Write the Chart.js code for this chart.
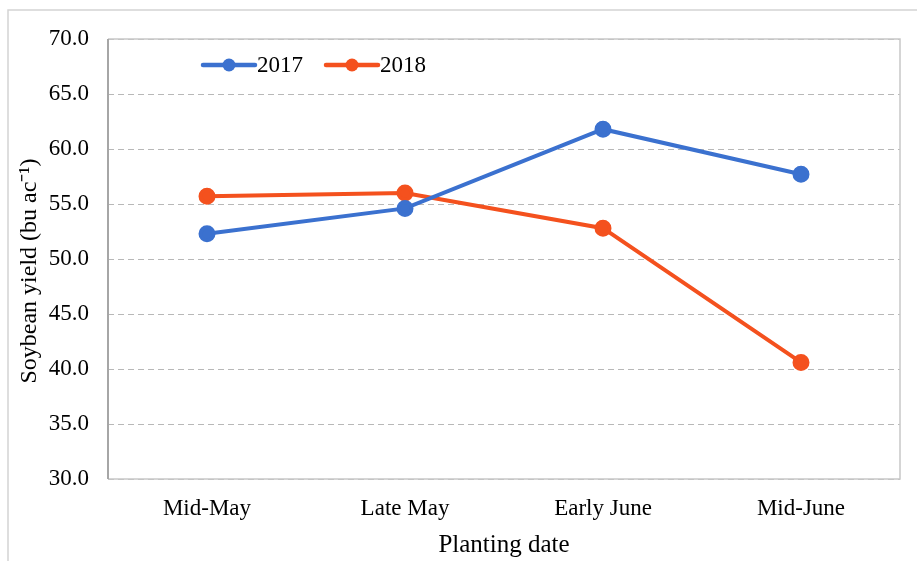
<!DOCTYPE html>
<html>
<head>
<meta charset="utf-8">
<script src="https://cdn.jsdelivr.net/npm/chart.js@4"></script>
<style>
  html, body { margin: 0; padding: 0; background: #ffffff; }
  #wrap { position: relative; width: 917px; height: 561px; }
</style>
</head>
<body>
<div id="wrap"><canvas id="c" width="917" height="561"></canvas></div>
<script>
// Planting date categories and soybean yields (bu/ac) per year
const plantingDates = ['Mid-May', 'Late May', 'Early June', 'Mid-June'];
const yield2017 = [52.3, 54.6, 61.8, 57.7];
const yield2018 = [55.7, 56.0, 52.8, 40.6];
const seriesNames = ['2017', '2018'];
const yTicks = [30, 35, 40, 45, 50, 55, 60, 65, 70];

const BLUE = '#3B71CF';
const ORANGE = '#F4511E';
const SERIF = '"Liberation Serif", "Times New Roman", serif';

// Frame around the whole figure and around the plot area
const framePlugin = {
  id: 'frames',
  beforeDraw(chart) {
    const ctx = chart.ctx;
    ctx.save();
    ctx.fillStyle = '#ffffff';
    ctx.fillRect(0, 0, chart.width, chart.height);
    ctx.strokeStyle = '#d4d4d4';
    ctx.lineWidth = 1.5;
    ctx.strokeRect(8, 10, chart.width - 6, chart.height - 4);
    ctx.restore();
  },
  beforeDatasetsDraw(chart) {
    const {ctx, chartArea: a} = chart;
    ctx.save();
    ctx.strokeStyle = '#c8c8c8';
    ctx.lineWidth = 1.5;
    ctx.beginPath();
    ctx.moveTo(a.left, a.top); ctx.lineTo(a.right, a.top);
    ctx.lineTo(a.right, a.bottom); ctx.lineTo(a.left, a.bottom);
    ctx.stroke();
    ctx.strokeStyle = '#a6a6a6';
    ctx.lineWidth = 2;
    ctx.beginPath();
    ctx.moveTo(a.left, a.top); ctx.lineTo(a.left, a.bottom);
    ctx.stroke();
    ctx.restore();
  }
};

// Legend drawn inside the plot area, near its top-left corner
const insideLegend = {
  id: 'insideLegend',
  afterDatasetsDraw(chart) {
    const ctx = chart.ctx;
    const y = 65;
    const starts = [203, 326];
    ctx.save();
    chart.data.datasets.forEach((ds, i) => {
      const x = starts[i];
      ctx.strokeStyle = ds.borderColor;
      ctx.lineWidth = 4.5;
      ctx.lineCap = 'round';
      ctx.beginPath();
      ctx.moveTo(x, y); ctx.lineTo(x + 52, y);
      ctx.stroke();
      ctx.fillStyle = ds.borderColor;
      ctx.beginPath();
      ctx.arc(x + 26, y, 6.5, 0, Math.PI * 2);
      ctx.fill();
      ctx.fillStyle = '#000000';
      ctx.font = '23px ' + SERIF;
      ctx.textBaseline = 'middle';
      ctx.textAlign = 'left';
      ctx.fillText(ds.label, x + 54, y + 1);
    });
    ctx.restore();
  }
};

new Chart(document.getElementById('c'), {
  type: 'line',
  data: {
    labels: plantingDates,
    datasets: [
      {
        label: seriesNames[0], data: yield2017,
        borderColor: BLUE, backgroundColor: BLUE,
        borderWidth: 4, pointRadius: 6.5, pointHoverRadius: 6.5,
        pointBackgroundColor: BLUE, pointBorderColor: BLUE, tension: 0
      },
      {
        label: seriesNames[1], data: yield2018,
        borderColor: ORANGE, backgroundColor: ORANGE,
        borderWidth: 4, pointRadius: 6.5, pointHoverRadius: 6.5,
        pointBackgroundColor: ORANGE, pointBorderColor: ORANGE, tension: 0
      }
    ]
  },
  options: {
    responsive: false,
    animation: false,
    events: [],
    layout: { padding: { top: 39, right: 17, left: 0, bottom: 0 } },
    plugins: {
      legend: { display: false },
      tooltip: { enabled: false }
    },
    scales: {
      x: {
        offset: true,
        grid: { display: false, drawTicks: false },
        border: { display: false },
        ticks: {
          color: '#000000', padding: 16,
          font: { family: SERIF, size: 23 }
        },
        title: {
          display: true, text: 'Planting date', color: '#000000',
          font: { family: SERIF, size: 25 },
          padding: { top: 0, bottom: 1 }
        },
        afterFit(scale) { scale.height = 82; }
      },
      y: {
        min: 30, max: 70,
        afterBuildTicks(scale) { scale.ticks = yTicks.map(v => ({ value: v })); },
        grid: { color: '#b8b8b8', lineWidth: 1, drawTicks: false },
        border: { display: false, dash: [6, 4] },
        ticks: {
          color: '#000000', padding: 19,
          font: { family: SERIF, size: 23 },
          callback: v => Number(v).toFixed(1)
        },
        title: {
          display: true, text: 'Soybean yield (bu ac\u207B\u00B9)    ', color: '#000000',
          font: { family: SERIF, size: 24 },
          padding: { top: 15, bottom: 0 }
        },
        afterFit(scale) { scale.width = 108; }
      }
    }
  },
  plugins: [framePlugin, insideLegend]
});
</script>
</body>
</html>
